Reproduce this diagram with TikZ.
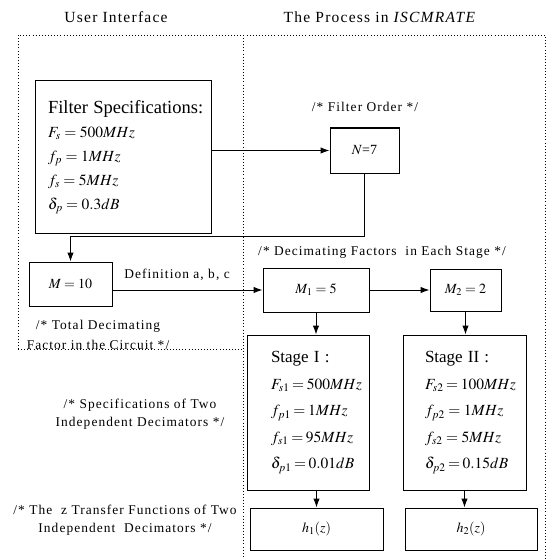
\documentclass[tikz,border=0pt]{standalone}
\usepackage{mathptmx}
\usepackage[no-math]{fontspec}
\setmainfont{Liberation Serif}
\newfontfamily\cmtfont[LetterSpace=8]{Liberation Serif}
\usetikzlibrary{arrows.meta,positioning}
\relpenalty=10000
\binoppenalty=10000

\begin{document}
\begin{tikzpicture}[x=1pt,y=-1pt,
    box/.style={draw,line width=1pt,inner sep=0pt,font=\fontsize{14}{16}\selectfont},
    specbox/.style={box,align=left,font=\fontsize{15.5}{26.5}\selectfont},
    cmt/.style={font=\cmtfont\fontsize{13.4}{20}\selectfont,align=center,inner sep=0pt},
    frame/.style={line width=0.9pt,dash pattern=on 0.9pt off 2.2pt},
    link/.style={-{Latex[length=9pt,width=6.5pt]},line width=1pt}]
\useasboundingbox (0,0) rectangle (550,559);

% titles
\node[cmt,font=\cmtfont\fontsize{15.5}{18}\selectfont] (ui) at (116,17) {User Interface};
\node[cmt,font=\cmtfont\fontsize{15.5}{18}\selectfont] (proc) at (380,17) {The Process in \textit{ISCMRATE}};

% dotted frames
\draw[frame] (18,349) -- (18,35) -- (545,35) -- (545,559);
\draw[frame] (243,35) -- (243,559);
\draw[frame] (18,349) -- (243,349);

% user interface
\node[specbox,minimum width=176pt,minimum height=152pt,text width=150pt,inner xsep=13pt,font=\fontsize{15.5}{24}\selectfont] (spec) at (123,157)
    {\mbox{\fontsize{18.5}{24}\selectfont Filter Specifications:}\\ $F_s = 500MHz$\\ $f_p = 1MHz$\\ $f_s = 5MHz$\\ $\delta_p = 0.3dB$};
\node[box,minimum width=83pt,minimum height=44pt] (M) at (70.5,284) {$M = 10$};
\node[cmt] (defcmt) at (177,275) {Definition a, b, c};
\node[cmt] (totcmt) at (98,335) {/* Total Decimating\\Factor in the Circuit */};
\node[cmt,font=\cmtfont\fontsize{13.4}{18}\selectfont] (speccmt) at (140,414) {/* Specifications of Two\\Independent Decimators */};
\node[cmt,font=\cmtfont\fontsize{13.4}{18}\selectfont] (zcmt) at (125,520) {/* The \ z Transfer Functions of Two\\Independent \ Decimators */};

% process
\node[cmt] (ordcmt) at (365,107) {/* Filter Order */};
\node[box,minimum width=69pt,minimum height=45pt] (N) at (364.5,150.5) {$N$=7};
\node[cmt] (deccmt) at (382,252) {/* Decimating Factors \ in Each Stage */};
\node[box,minimum width=106pt,minimum height=44pt] (M1) at (316,290) {$M_1 = 5$};
\node[box,minimum width=71pt,minimum height=42pt] (M2) at (465.5,290) {$M_2 = 2$};
\node[specbox,minimum width=122pt,minimum height=155pt,text width=74pt,inner xsep=24pt] (S1) at (308,412.5)
    {\mbox{\fontsize{17}{26.5}\selectfont Stage I :}\\ $F_{s1} = 500MHz$\\ $f_{p1} = 1MHz$\\ $f_{s1} = 95MHz$\\ $\delta_{p1} = 0.01dB$};
\node[specbox,minimum width=123pt,minimum height=155pt,text width=79pt,inner xsep=22pt] (S2) at (464.5,412.5)
    {\mbox{\fontsize{17}{26.5}\selectfont Stage II :}\\ $F_{s2} = 100MHz$\\ $f_{p2} = 1MHz$\\ $f_{s2} = 5MHz$\\ $\delta_{p2} = 0.15dB$};
\node[box,minimum width=133pt,minimum height=42pt] (h1) at (316.5,529) {$h_1(z)$};
\node[box,minimum width=132pt,minimum height=42pt] (h2) at (471,529) {$h_2(z)$};

% connectors
\coordinate (bend) at (70.5,236);
\draw[link] (N.south) |- (bend) -- (M.north);
\path[link]
    (spec.east |- N) edge (N)
    (M.east |- M1) edge (M1)
    (M1) edge (M2)
    (M1.south) edge (M1.south |- S1.north)
    (M2.south) edge (M2.south |- S2.north)
    (h1.north |- S1.south) edge (h1.north)
    (S2.south) edge (S2.south |- h2.north);
\end{tikzpicture}
\end{document}
